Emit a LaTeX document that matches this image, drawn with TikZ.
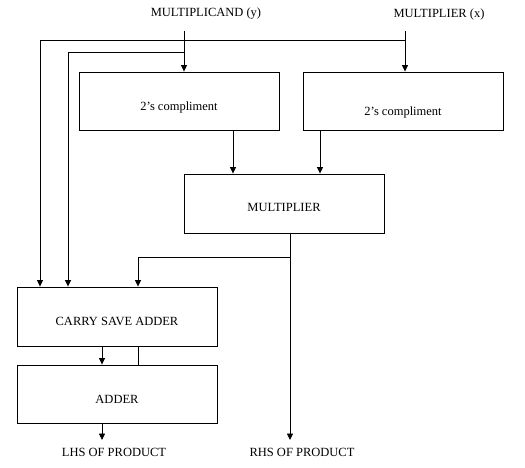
\documentclass[tikz,border=0pt]{standalone}
\usepackage{fontspec}
\setmainfont{Liberation Serif}
\usetikzlibrary{arrows.meta}
\begin{document}
\begin{tikzpicture}[x=1pt,y=-1pt,
  blk/.style={draw,line width=0.9pt,minimum width=200pt,minimum height=58pt,inner sep=0pt},
  lbl/.style={font=\fontsize{12.5}{14}\selectfont,inner sep=0pt},
  wire/.style={line width=0.8pt},
  arr/.style={wire,-{Triangle[length=6.5pt,width=6pt]}}]
\useasboundingbox (0,0) rectangle (525,467);
% boxes
\node[blk,label={[lbl,yshift=-6pt]center:2’s compliment}] (c1) at (179,101) {};
\node[blk,label={[lbl,yshift=-11pt]center:2’s compliment}] (c2) at (403,101) {};
\node[blk,minimum height=59pt,label={[lbl,yshift=-4pt]center:MULTIPLIER}] (mul) at (284,203.5) {};
\node[blk,minimum height=59pt,label={[lbl,yshift=-5pt]center:CARRY SAVE ADDER}] (csa) at (117,316.5) {};
\node[blk,label={[lbl,yshift=-5pt]center:ADDER}] (add) at (117,394) {};
% text labels
\node[lbl] (my) at (206,14) {MULTIPLICAND (y)};
\node[lbl] (mx) at (439,14) {MULTIPLIER (x)};
\node[lbl] (lhs) at (114,452) {LHS OF PRODUCT};
\node[lbl] (rhs) at (302,452) {RHS OF PRODUCT};
% coordinates
\coordinate (yin) at (184,31);
\coordinate (xin) at (405,31);
\coordinate (yb) at (184,52);
\coordinate (xb) at (405,40);
\coordinate (mb) at (290,257);
\coordinate (lo) at (102,440);
\coordinate (ro) at (290,440);
% connectors
\draw[arr] (yin) -- (yin |- c1.north);
\draw[arr] (xin) -- (xin |- c2.north);
\draw[arr] (yb) -- (68,52) -- (68,0 |- csa.north);
\draw[arr] (xb) -- (40,40) -- (40,0 |- csa.north);
\draw[arr] (233,0 |- c1.south) -- (233,0 |- mul.north);
\draw[arr] (320,0 |- c2.south) -- (320,0 |- mul.north);
\draw[wire] (mb |- mul.south) -- (mb);
\draw[arr] (mb) -- (ro);
\draw[arr] (mb) -- (138,257) -- (138,0 |- csa.north);
\draw[arr] (102,0 |- csa.south) -- (102,0 |- add.north);
\draw[wire] (138,0 |- csa.south) -- (138,0 |- add.north);
\draw[arr] (102,0 |- add.south) -- (lo);
\end{tikzpicture}
\end{document}
